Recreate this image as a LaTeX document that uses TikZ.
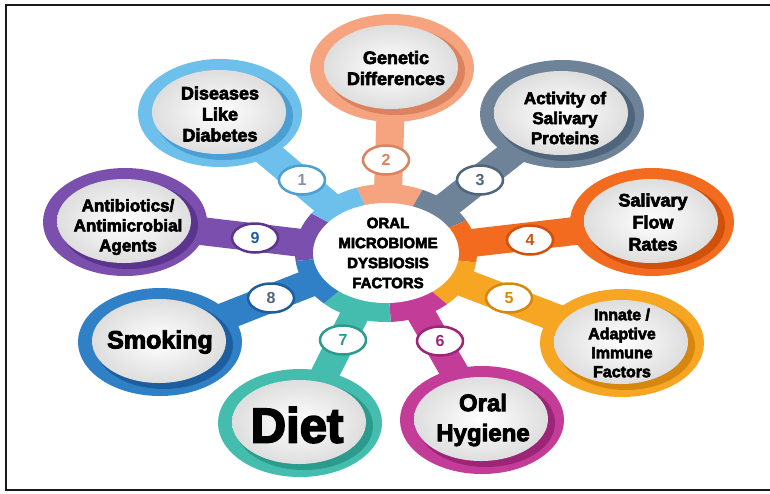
\documentclass[tikz,border=0pt]{standalone}
\usepackage{fontspec}
\setmainfont{Liberation Sans}
\newfontfamily\hv{Liberation Sans}[BoldFeatures={FakeBold=3.5}]
\newfontfamily\hvnum{Liberation Sans}
\usetikzlibrary{shapes.geometric,calc}
\definecolor{c1}{HTML}{6CC0EB}\definecolor{d1}{HTML}{4B9FD2}
\definecolor{c2}{HTML}{F5A47F}\definecolor{d2}{HTML}{DA835E}
\definecolor{c3}{HTML}{6E8398}\definecolor{d3}{HTML}{4F657B}
\definecolor{c4}{HTML}{F36B1E}\definecolor{d4}{HTML}{CF510C}
\definecolor{c5}{HTML}{F6A623}\definecolor{d5}{HTML}{D6870F}
\definecolor{c6}{HTML}{C33D98}\definecolor{d6}{HTML}{9C2577}
\definecolor{c7}{HTML}{45BDAE}\definecolor{d7}{HTML}{2B9B8D}
\definecolor{c8}{HTML}{2F80C7}\definecolor{d8}{HTML}{1D5E9E}
\definecolor{c9}{HTML}{7B4FAE}\definecolor{d9}{HTML}{5B348E}
\definecolor{framec}{HTML}{1A1A1A}
\begin{document}
\begin{tikzpicture}[x=1pt,y=-1pt,
  ringtxt/.style={font=\hv\bfseries, align=center, text=black, inner sep=0pt},
  bubble/.style={ellipse, fill=white, minimum width=46pt, minimum height=29pt, inner sep=0pt, line width=2.5pt, font=\hvnum\bfseries\fontsize{16}{16}\selectfont},
  stem/.style={line width=28pt}]
\useasboundingbox (0,0) rectangle (770,493);
\fill[white] (0,0) rectangle (770,493);
% frame
\draw[framec, line width=2.5pt] (780,5) -- (6,5) -- (6,490) -- (780,490);
% centres
\coordinate (hub) at (386,253);
\coordinate (r1) at (220,113); \coordinate (r2) at (392,68);
\coordinate (r3) at (562,114); \coordinate (r4) at (652,222);
\coordinate (r5) at (622,343); \coordinate (r6) at (482,420);
\coordinate (r7) at (300,423); \coordinate (r8) at (160,342);
\coordinate (r9) at (125,222);
% stems
\foreach \i in {1,...,9} \draw[stem, c\i] (hub) -- (r\i);
% hub sectors
\begin{scope}
\clip (hub) ellipse (91 and 69);
\foreach \a/\b/\c in {-114/-60/c2, -60/-22/c3, -22/6/c4, 6/40/c5, 40/86/c6, 86/141/c7, 141/175/c8, 175/208/c9, 208/246/c1}
  \fill[\c] (hub) -- ++(\a:150) arc[start angle=\a, end angle=\b, radius=150] -- cycle;
\end{scope}
% rings
\foreach \i in {1,...,9} {
  \fill[c\i] (r\i) ellipse (82 and 54);
  \fill[d\i] ($(r\i)+(4,3)$) ellipse (69 and 44);
  \shade[inner color=white, outer color=black!13] ($(r\i)+(-1,-1)$) ellipse (67 and 42);
}
% number bubbles
\node[bubble, draw=d1, text=d3!70] (b1) at (302,180) {1};
\node[bubble, draw=d2, text=d2] (b2) at (386,160) {2};
\node[bubble, draw=d3, text=d3] (b3) at (480,180) {3};
\node[bubble, draw=d4, text=d4] (b4) at (530,240) {4};
\node[bubble, draw=d5, text=d5] (b5) at (509,298) {5};
\node[bubble, draw=d6, text=d6] (b6) at (440,341) {6};
\node[bubble, draw=d7, text=d7] (b7) at (343,340) {7};
\node[bubble, draw=d8, text=d3] (b8) at (271,298) {8};
\node[bubble, draw=d9, text=d8] (b9) at (255,238) {9};
% texts
\node[ringtxt, font=\hv\bfseries\fontsize{18}{21}\selectfont] (t1) at (220,114) {Diseases\\Like\\Diabetes};
\node[ringtxt, font=\hv\bfseries\fontsize{18}{21}\selectfont] (t2) at (396,68) {Genetic\\Differences};
\node[ringtxt, font=\hv\bfseries\fontsize{17}{20}\selectfont] (t3) at (565,118) {Activity of\\Salivary\\Proteins};
\node[ringtxt, font=\hv\bfseries\fontsize{18}{22}\selectfont] (t4) at (653,222) {Salivary\\Flow\\Rates};
\node[ringtxt, font=\hv\bfseries\fontsize{16}{19}\selectfont] (t5) at (622,343) {Innate /\\Adaptive\\Immune\\Factors};
\node[ringtxt, font=\hv\bfseries\fontsize{24}{30}\selectfont] (t6) at (483,420) {Oral\\Hygiene};
\node[ringtxt, font=\hv\bfseries\fontsize{49}{49}\selectfont] (t7) at (297,425) {Diet};
\node[ringtxt, font=\hv\bfseries\fontsize{25}{25}\selectfont] (t8) at (160,342) {Smoking};
\node[ringtxt, font=\hv\bfseries\fontsize{17}{20}\selectfont] (t9) at (128,227) {Antibiotics/\\Antimicrobial\\Agents};
% centre
\node[ellipse, fill=white, minimum width=146pt, minimum height=100pt, inner sep=0pt] (ctr) at (hub) {};
\node[ringtxt, font=\hv\bfseries\fontsize{15}{20}\selectfont] (ct) at (388,253) {ORAL\\MICROBIOME\\DYSBIOSIS\\FACTORS};
\end{tikzpicture}
\end{document}
